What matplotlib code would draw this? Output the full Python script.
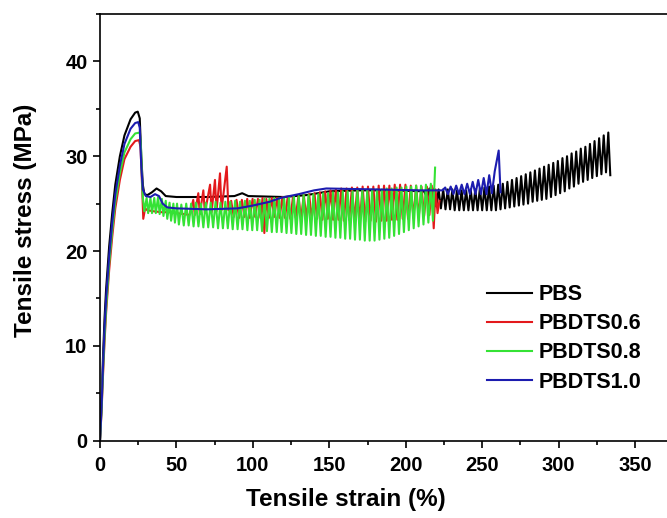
import numpy as np
import matplotlib
matplotlib.use("Agg")
import matplotlib.pyplot as plt
from matplotlib.ticker import MultipleLocator

plt.rcParams['font.family'] = ['Liberation Sans', 'DejaVu Sans']
plt.rcParams['font.weight'] = 'bold'

# PBS
pbs_strain = [0, 1, 2, 3, 4, 6, 8, 10, 13, 16, 20, 23, 24.7, 26, 27, 28, 29, 31, 34, 37, 40, 43,
              50, 70, 88, 93, 97, 120, 135, 150, 170, 190, 212,
              214.0, 215.5, 217.0, 218.5, 220.0, 221.5, 223.0, 224.5, 226.0, 227.5,
              229.0, 230.5, 232.0, 233.5, 235.0, 236.5, 238.0, 239.5, 241.0, 242.5,
              244.0, 245.5, 247.0, 248.5, 250.0, 251.5, 253.0, 254.5, 256.0, 257.5,
              259.0, 260.5, 262.0, 263.5, 265.0, 266.5, 268.0, 269.5, 271.0, 272.5,
              274.0, 275.5, 277.0, 278.5, 280.0, 281.5, 283.0, 284.5, 286.0, 287.5,
              289.0, 290.5, 292.0, 293.5, 295.0, 296.5, 298.0, 299.5, 301.0, 302.5,
              304.0, 305.5, 307.0, 308.5, 310.0, 311.5, 313.0, 314.5, 316.0, 317.5,
              319.0, 320.5, 322.0, 323.5, 325.0, 326.5, 328.0, 329.5, 331.0, 332.5,
              333.8]
pbs_stress = [0, 4, 9, 13, 16, 20.5, 24, 27, 30, 32.2, 33.9, 34.6, 34.7, 34.0, 30, 27, 26, 25.9, 26.2,
              26.6, 26.3, 25.8, 25.7, 25.7, 25.8, 26.1, 25.8, 25.7, 25.9, 26.3, 26.4, 26.4, 26.3,
              25.6, 26.6, 25.0, 26.6, 24.7, 26.5, 24.5, 26.5, 24.4, 26.5,
              24.4, 26.5, 24.3, 26.4, 24.3, 26.4, 24.3, 26.4, 24.3, 26.5,
              24.3, 26.5, 24.3, 26.6, 24.3, 26.7, 24.3, 26.8, 24.3, 26.9,
              24.3, 27.0, 24.4, 27.1, 24.5, 27.3, 24.6, 27.5, 24.7, 27.7,
              24.8, 27.9, 24.9, 28.1, 25.0, 28.3, 25.2, 28.5, 25.3, 28.7,
              25.4, 28.9, 25.5, 29.1, 25.7, 29.3, 25.9, 29.5, 26.1, 29.8,
              26.3, 30.0, 26.6, 30.3, 26.8, 30.5, 27.1, 30.8, 27.3, 31.0,
              27.5, 31.3, 27.7, 31.6, 27.9, 31.9, 28.1, 32.2, 28.3, 32.5,
              28.0]

# PBDTS0.6
red_strain = [0, 1, 2, 3, 4, 6, 8, 10, 13, 16, 20, 23, 25.5, 26.5, 27.5, 28.3, 29.5, 31, 35, 40,
              45, 50, 55, 58.5,
              61.0, 62.0, 64.3, 65.3, 67.6, 68.6, 72.0, 73.0, 75.2, 76.2, 78.5, 79.5, 82.9, 84.0,
              85.8, 87.5, 89.3, 91.0, 92.8, 94.5, 96.3, 98.0, 99.8, 101.5, 103.3, 105.0,
              106.3, 107.5, 108.8, 110.5, 112.3, 114.0, 115.8, 117.5, 119.3, 121.0, 122.8, 124.5,
              126.3, 128.0, 129.8, 131.5, 133.3, 135.0, 136.8, 138.5, 140.3, 142.0, 143.8, 145.5,
              147.3, 149.0, 150.8, 152.5, 154.3, 156.0, 157.8, 159.5, 161.3, 163.0, 164.8, 166.5,
              168.3, 170.0, 171.8, 173.5, 175.3, 177.0, 178.8, 180.5, 182.3, 184.0, 185.8, 187.5,
              189.3, 191.0, 192.8, 194.5, 196.3, 198.0, 199.8, 201.5, 203.3, 205.0, 206.8, 208.5,
              210.3, 212.0, 213.8, 215.5, 217.0, 218.3, 219.5, 220.8, 222.0]
red_stress = [0, 3, 7, 10.5, 13.5, 18, 21.5, 24.5, 27.5, 29.7, 31, 31.6, 31.7, 31, 27, 23.4, 24.5,
              24.3, 24.2, 24.1, 24.1, 24.0, 23.9, 23.8,
              25.4, 23.8, 26.1, 23.9, 26.4, 24.0, 27.0, 24.1, 27.5, 24.2, 28.2, 24.3, 28.9, 24.3,
              25.3, 23.6, 25.4, 23.5, 25.4, 23.6, 25.5, 23.5, 25.5, 23.6, 25.5, 23.5,
              25.6, 21.9, 25.5, 23.5, 25.6, 23.6, 25.6, 23.5, 25.7, 23.5, 25.7, 23.4,
              25.8, 23.5, 25.8, 23.4, 25.9, 23.5, 26.0, 23.4, 26.1, 23.4, 26.2, 23.3,
              26.3, 23.4, 26.4, 23.3, 26.5, 23.3, 26.6, 23.2, 26.6, 23.3, 26.7, 23.2,
              26.7, 23.2, 26.8, 23.1, 26.8, 23.2, 26.8, 23.1, 26.9, 23.2, 26.9, 23.2,
              26.9, 23.3, 27.0, 23.3, 27.0, 23.4, 27.0, 23.4, 26.9, 23.5, 26.9, 23.6,
              26.8, 23.7, 26.8, 23.8, 26.9, 22.4, 26.5, 24.0, 25.3]

# PBDTS0.8
green_strain = [0, 1, 2, 3, 4, 6, 8, 10, 13, 16, 20, 23, 26, 26.8, 27.5, 28,
                29, 30.5, 31.5, 33, 34, 35.5, 36.5, 38, 39, 40.5, 41.5, 43, 44, 45.5, 46.5, 48,
                49, 50.4]
green_stress = [0, 3.2, 7.5, 11, 14, 18.7, 22.2, 25.2, 28.2, 30.4, 31.8, 32.4, 32.5, 31, 27.5, 25.7,
                24.2, 25.6, 24.0, 25.6, 24.0, 25.6, 24.0, 25.7, 23.9, 25.5, 23.7, 25.3, 23.4, 25.1,
                23.2, 25.0, 23.0, 25.0]
green_trough_strain = [51.6, 54.8, 58.0, 61.2, 64.4, 67.6, 70.8, 74.0, 77.2, 80.4,
                       83.6, 86.8, 90.0, 93.2, 96.4, 99.6, 102.8, 106.0, 109.2, 112.4,
                       115.6, 118.8, 122.0, 125.2, 128.4, 131.6, 134.8, 138.0, 141.2, 144.4,
                       147.6, 150.8, 154.0, 157.2, 160.4, 163.6, 166.8, 170.0, 173.2, 176.4,
                       179.6, 182.8, 186.0, 189.2, 192.4, 195.6, 198.8, 202.0, 205.2, 208.4,
                       211.6, 214.8]
green_trough = [22.8, 22.7, 22.7, 22.6, 22.6, 22.5, 22.5, 22.5, 22.4, 22.4,
                22.4, 22.3, 22.3, 22.3, 22.2, 22.2, 22.2, 22.1, 22.1, 22.0,
                22.0, 22.0, 21.9, 21.9, 21.8, 21.8, 21.7, 21.7, 21.6, 21.6,
                21.5, 21.5, 21.4, 21.4, 21.3, 21.3, 21.2, 21.2, 21.1, 21.1,
                21.1, 21.2, 21.3, 21.4, 21.6, 21.8, 22.0, 22.2, 22.4, 22.6,
                22.8, 23.0]
green_peak_strain = [53.2, 56.4, 59.6, 62.8, 66.0, 69.2, 72.4, 75.6, 78.8, 82.0,
                     85.2, 88.4, 91.6, 94.8, 98.0, 101.2, 104.4, 107.6, 110.8, 114.0,
                     117.2, 120.4, 123.6, 126.8, 130.0, 133.2, 136.4, 139.6, 142.8, 146.0,
                     149.2, 152.4, 155.6, 158.8, 162.0, 165.2, 168.4, 171.6, 174.8, 178.0,
                     181.2, 184.4, 187.6, 190.8, 194.0, 197.2, 200.4, 203.6, 206.8, 210.0,
                     213.2, 216.4]
green_peak = [24.9, 25.0, 25.0, 25.1, 25.0, 25.1, 25.1, 25.2, 25.1, 25.2,
              25.2, 25.3, 25.2, 25.3, 25.3, 25.4, 25.4, 25.5, 25.5, 25.6,
              25.6, 25.7, 25.7, 25.8, 25.8, 25.9, 25.9, 26.0, 26.0, 26.1,
              26.1, 26.2, 26.2, 26.3, 26.3, 26.3, 26.4, 26.4, 26.4, 26.5,
              26.5, 26.5, 26.6, 26.6, 26.7, 26.7, 26.8, 26.8, 26.9, 26.9,
              27.0, 27.1]
green_end_strain = [217.8, 219.2]
green_end_stress = [23.2, 28.8]

# PBDTS1.0
blue_strain = [0, 1, 2, 3, 4, 6, 8, 10, 13, 16, 20, 23, 25, 26, 27, 28, 30, 33, 36, 38.6, 41, 44,
               50, 70, 90, 100, 111, 118, 130, 140, 148, 180, 210, 224,
               225.8, 227.6, 229.4, 231.2, 233.0, 234.8, 236.6, 238.4, 240.2, 242.0, 243.8, 245.6,
               247.4, 249.2, 251.0, 252.8, 254.6, 256.4, 258.2, 260.8, 262.0]
blue_stress = [0, 3.5, 8, 12, 15, 19.5, 23, 26, 29, 31.3, 32.9, 33.5, 33.6, 33, 29, 26.5, 25.8,
               25.7, 26.0, 25.8, 25.0, 24.6, 24.5, 24.4, 24.5, 24.8, 25.2, 25.6, 26.0, 26.4, 26.6,
               26.5, 26.4, 26.4,
               26.7, 26.0, 26.8, 26.0, 26.9, 26.0, 27.0, 26.0, 27.1, 26.0, 27.3, 26.0,
               27.5, 26.0, 27.7, 26.0, 28.0, 26.1, 28.4, 30.6, 26.2]

# green zigzag: trough, peak, trough, peak ...
g_teeth_x = np.column_stack([green_trough_strain, green_peak_strain]).ravel()
g_teeth_y = np.column_stack([green_trough, green_peak]).ravel()
green_x = np.concatenate([green_strain, g_teeth_x, green_end_strain])
green_y = np.concatenate([green_stress, g_teeth_y, green_end_stress])

fig = plt.figure(figsize=(6.67, 5.18), dpi=100)
ax = fig.add_axes([100 / 667, 77.3 / 518, 567 / 667, 426.7 / 518])

lw = 1.5
ax.plot(pbs_strain, pbs_stress, color='black', lw=lw, label='PBS')
ax.plot(red_strain, red_stress, color='#e3191c', lw=lw, label='PBDTS0.6')
ax.plot(green_x, green_y, color='#35e235', lw=lw, label='PBDTS0.8')
ax.plot(blue_strain, blue_stress, color='#1c1caf', lw=lw, label='PBDTS1.0')

ax.set_xlim(0, 370.9)
ax.set_ylim(0, 45)
ax.xaxis.set_major_locator(MultipleLocator(50))
ax.xaxis.set_minor_locator(MultipleLocator(25))
ax.yaxis.set_major_locator(MultipleLocator(10))
ax.yaxis.set_minor_locator(MultipleLocator(5))
ax.spines['right'].set_visible(False)
for s in ['left', 'bottom', 'top']:
    ax.spines[s].set_linewidth(1.2)
ax.tick_params(which='major', direction='out', length=5, width=1.2, labelsize=14.5)
ax.tick_params(axis='x', which='major', pad=6)
ax.tick_params(axis='y', which='major', pad=4)
ax.tick_params(which='minor', direction='out', length=3, width=1.2)
ax.tick_params(top=False, right=False)
for lab in ax.get_xticklabels() + ax.get_yticklabels():
    lab.set_fontweight('bold')

ax.set_xlabel('Tensile strain (%)', fontsize=17.5, fontweight='bold')
ax.set_ylabel('Tensile stress (MPa)', fontsize=17.5, fontweight='bold')
ax.xaxis.set_label_coords(0.434, -0.111)
ax.yaxis.set_label_coords(-0.111, 0.517)

ax.legend(loc='upper left', bbox_to_anchor=(0.683, 0.367), frameon=False,
          borderaxespad=0, borderpad=0, handlelength=2.1, handletextpad=0.28,
          labelspacing=0.38, prop={'size': 15.5, 'weight': 'bold'})

fig.savefig('out.png', dpi=100)
